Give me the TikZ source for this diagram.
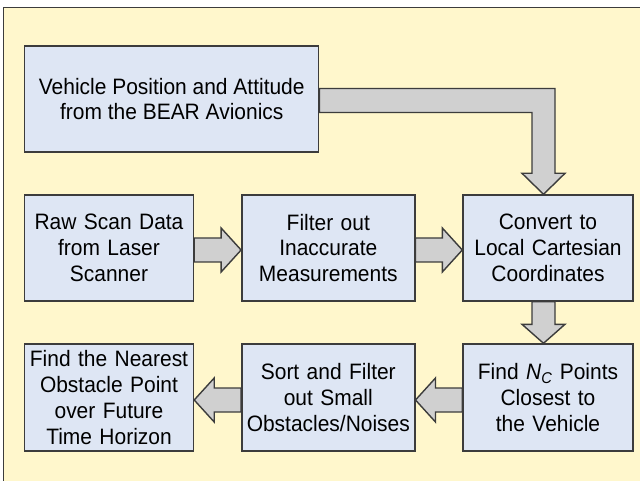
\documentclass[tikz,border=0pt]{standalone}
\usepackage{fontspec}
\setmainfont[FakeStretch=0.94]{Liberation Sans}
\usetikzlibrary{calc}

\definecolor{bgcream}{RGB}{255,247,204}
\definecolor{boxblue}{RGB}{222,230,244}
\definecolor{arrowgray}{RGB}{208,208,208}
\definecolor{linegray}{RGB}{60,60,60}

\begin{document}
\begin{tikzpicture}
  [x=1pt,y=-1pt,
   block/.style={draw=linegray,line width=1.4pt,fill=boxblue,inner sep=0pt,
     minimum height=106pt,align=center,
     font=\fontsize{22.3}{25.7}\selectfont},
   fatarrow/.style={draw=linegray,line width=1.4pt,fill=arrowgray},
   fatright/.style={to path={($(\tikztostart)+(0,-12)$) -- ($(\tikztotarget)+(-20,-12)$)
     -- ($(\tikztotarget)+(-20,-22)$) -- (\tikztotarget) -- ($(\tikztotarget)+(-20,22)$)
     -- ($(\tikztotarget)+(-20,12)$) -- ($(\tikztostart)+(0,12)$) -- cycle}},
   fatleft/.style={to path={($(\tikztostart)+(0,-12)$) -- ($(\tikztotarget)+(20,-12)$)
     -- ($(\tikztotarget)+(20,-22)$) -- (\tikztotarget) -- ($(\tikztotarget)+(20,22)$)
     -- ($(\tikztotarget)+(20,12)$) -- ($(\tikztostart)+(0,12)$) -- cycle}},
   fatdown/.style={to path={($(\tikztostart)+(-11.5,0)$) -- ($(\tikztotarget)+(-11.5,-19)$)
     -- ($(\tikztotarget)+(-21.5,-19)$) -- (\tikztotarget) -- ($(\tikztotarget)+(21.5,-19)$)
     -- ($(\tikztotarget)+(11.5,-19)$) -- ($(\tikztostart)+(11.5,0)$) -- cycle}}]
  \useasboundingbox (0,0) rectangle (640,481);
  \clip (0,0) rectangle (640,481);
  \fill[white] (0,0) rectangle (640,481);
  \draw[draw=linegray,line width=1.8pt,fill=bgcream] (3.5,7.5) rectangle (660,500);

  \node[block,minimum width=294pt] (veh) at (171.75,99) {Vehicle Position and Attitude\\from the BEAR Avionics};
  \node[block,minimum width=169pt,text width=162pt] (raw) at (109,248) {Raw Scan Data\\from Laser\\Scanner};
  \node[block,minimum width=173pt,text width=166pt] (filt) at (328.3,248) {Filter out\\Inaccurate\\Measurements};
  \node[block,minimum width=170pt,text width=164pt] (conv) at (548,248) {Convert to\\Local Cartesian\\Coordinates};
  \node[block,minimum width=170pt,text width=164pt,minimum height=107pt] (findn) at (548,397.5) {Find {\itshape N}\textsubscript{\itshape C} Points\\Closest to\\the Vehicle};
  \node[block,minimum width=173pt,text width=168pt,minimum height=107pt] (sort) at (328.3,397.5) {Sort and Filter\\out Small\\Obstacles/Noises};
  \node[block,minimum width=169pt,text width=165pt,minimum height=107pt] (near) at (109,397.5) {Find the Nearest\\Obstacle Point\\over Future\\Time Horizon};

  \coordinate (va) at ($(veh.east)+(0,-10.5)$);
  \coordinate (vb) at ($(veh.east)+(0,13.5)$);
  \coordinate (lc) at ($(conv.north)+(-4.5,0)$);
  \draw[fatarrow] (va) -- ($(lc |- va)+(11.5,0)$) -- ($(lc)+(11.5,-21)$) -- ($(lc)+(21.5,-21)$)
    -- (lc) -- ($(lc)+(-21.5,-21)$) -- ($(lc)+(-11.5,-21)$) -- ($(lc |- vb)+(-11.5,0)$) -- (vb) -- cycle;

  \draw[fatarrow] ($(raw.east)+(0,2)$) to[fatright] ($(filt.west)+(0,2)$);
  \draw[fatarrow] ($(filt.east)+(0,2)$) to[fatright] ($(conv.west)+(0,2)$);
  \draw[fatarrow] ($(conv.south)+(-4.5,0)$) to[fatdown] ($(findn.north)+(-4.5,0)$);
  \draw[fatarrow] ($(findn.west)+(0,2.5)$) to[fatleft] ($(sort.east)+(0,2.5)$);
  \draw[fatarrow] ($(sort.west)+(0,2.5)$) to[fatleft] ($(near.east)+(0,2.5)$);
\end{tikzpicture}
\end{document}
